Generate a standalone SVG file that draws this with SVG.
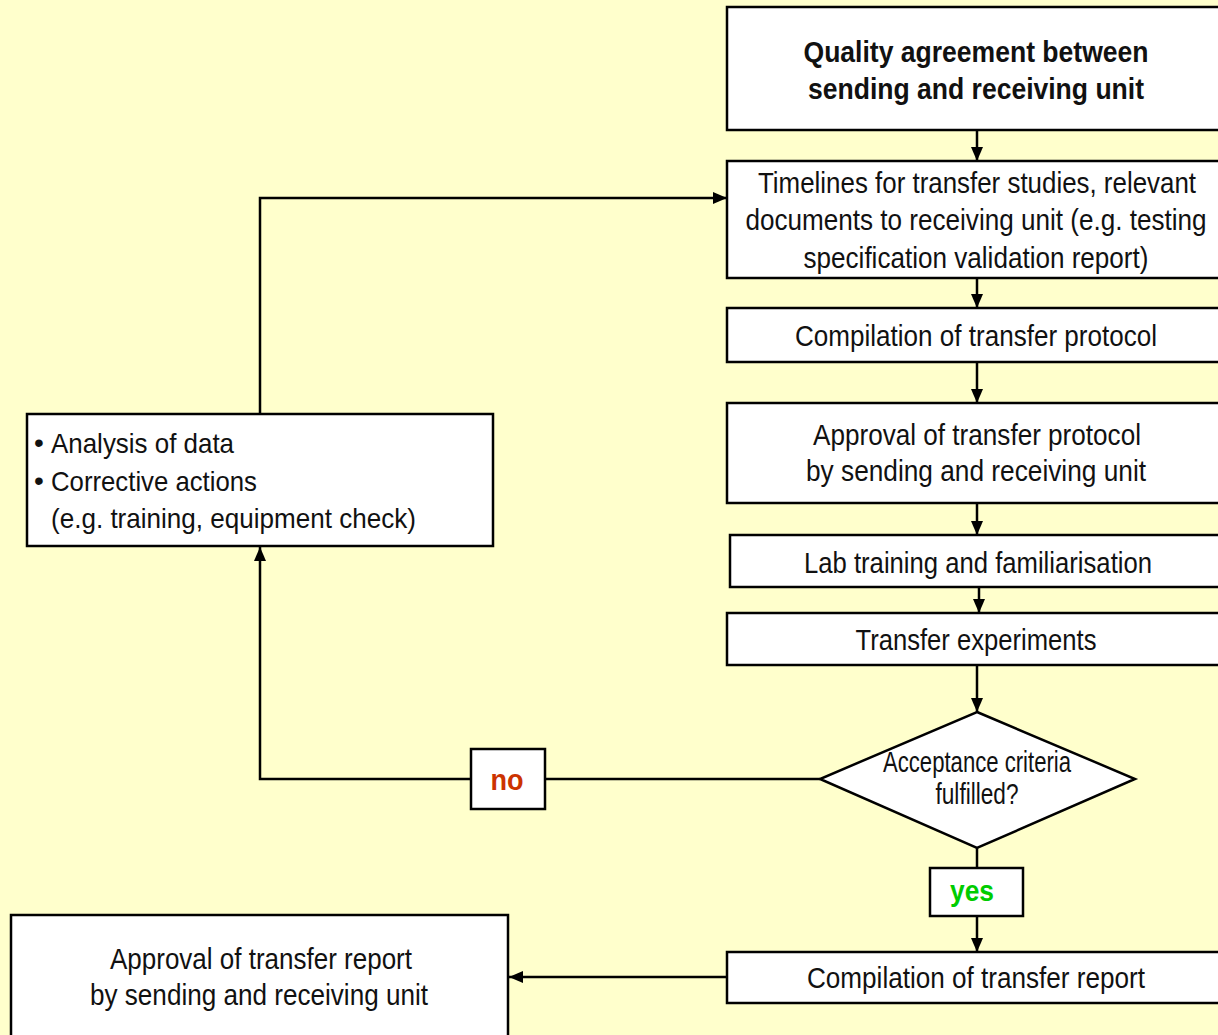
<svg xmlns="http://www.w3.org/2000/svg" width="1218" height="1035" viewBox="0 0 1218 1035">
<style>
.box{fill:#ffffff;stroke:#000000;stroke-width:2.5}
.t{font-family:"Liberation Sans",Arial,sans-serif;font-size:29px;fill:#111111;text-anchor:middle}
.tl{font-family:"Liberation Sans",Arial,sans-serif;font-size:28px;fill:#111111}
.b{font-weight:bold}
.c{fill:none;stroke:#000000;stroke-width:2.5}
</style>
<defs>
<marker id="ah" markerUnits="userSpaceOnUse" markerWidth="14" markerHeight="12" refX="14" refY="6" orient="auto">
<path d="M0,0 L14,6 L0,12 z" fill="#000000"/>
</marker>
</defs>
<rect x="0" y="0" width="1218" height="1035" fill="#ffffcc"/>
<g id="connectors">
<line class="c" x1="977" y1="130" x2="977" y2="161" marker-end="url(#ah)"/>
<line class="c" x1="977" y1="278" x2="977" y2="308" marker-end="url(#ah)"/>
<line class="c" x1="977" y1="362" x2="977" y2="403" marker-end="url(#ah)"/>
<line class="c" x1="977" y1="503" x2="977" y2="535" marker-end="url(#ah)"/>
<line class="c" x1="979" y1="587" x2="979" y2="613" marker-end="url(#ah)"/>
<line class="c" x1="977" y1="665" x2="977" y2="712" marker-end="url(#ah)"/>
<line class="c" x1="977" y1="848" x2="977" y2="868"/>
<line class="c" x1="977" y1="916" x2="977" y2="952" marker-end="url(#ah)"/>
<line class="c" x1="727" y1="977" x2="509" y2="977" marker-end="url(#ah)"/>
<line class="c" x1="820" y1="779" x2="545" y2="779"/>
<polyline class="c" points="471,779 260,779 260,547" marker-end="url(#ah)"/>
<polyline class="c" points="260,414 260,198 727,198" marker-end="url(#ah)"/>
</g>
<g id="quality">
<rect class="box" x="727" y="7" width="500" height="123"/>
<text class="t b" x="976" y="62" font-size="31" textLength="345" lengthAdjust="spacingAndGlyphs">Quality agreement between</text>
<text class="t b" x="976" y="99" font-size="31" textLength="336" lengthAdjust="spacingAndGlyphs">sending and receiving unit</text>
</g>
<g id="timelines">
<rect class="box" x="727" y="161" width="500" height="117"/>
<text class="t" x="977" y="193" font-size="28" textLength="438" lengthAdjust="spacingAndGlyphs">Timelines for transfer studies, relevant</text>
<text class="t" x="976" y="230" font-size="28" textLength="461" lengthAdjust="spacingAndGlyphs">documents to receiving unit (e.g. testing</text>
<text class="t" x="976" y="268" font-size="28" textLength="345" lengthAdjust="spacingAndGlyphs">specification validation report)</text>
</g>
<g id="compProtocol">
<rect class="box" x="727" y="308" width="500" height="54"/>
<text class="t" x="976" y="346" textLength="362" lengthAdjust="spacingAndGlyphs">Compilation of transfer protocol</text>
</g>
<g id="approvalProtocol">
<rect class="box" x="727" y="403" width="500" height="100"/>
<text class="t" x="977" y="445" textLength="328" lengthAdjust="spacingAndGlyphs">Approval of transfer protocol</text>
<text class="t" x="976" y="481" textLength="340" lengthAdjust="spacingAndGlyphs">by sending and receiving unit</text>
</g>
<g id="lab">
<rect class="box" x="730" y="535" width="497" height="52"/>
<text class="t" x="978" y="573" textLength="348" lengthAdjust="spacingAndGlyphs">Lab training and familiarisation</text>
</g>
<g id="experiments">
<rect class="box" x="727" y="613" width="500" height="52"/>
<text class="t" x="976" y="650" textLength="241" lengthAdjust="spacingAndGlyphs">Transfer experiments</text>
</g>
<g id="decision">
<polygon class="box" points="977,712 1135,779 977,848 820,779"/>
<text class="t" x="977" y="772" font-size="23" textLength="188" lengthAdjust="spacingAndGlyphs">Acceptance criteria</text>
<text class="t" x="977" y="804" font-size="23" textLength="83" lengthAdjust="spacingAndGlyphs">fulfilled?</text>
</g>
<g id="no">
<rect class="box" x="471" y="749" width="74" height="60"/>
<text class="t b" x="507" y="790" font-size="28" style="fill:#cc3300" textLength="33" lengthAdjust="spacingAndGlyphs">no</text>
</g>
<g id="yes">
<rect class="box" x="930" y="868" width="93" height="48"/>
<text class="t b" x="972" y="901" font-size="28" style="fill:#00cc00" textLength="44" lengthAdjust="spacingAndGlyphs">yes</text>
</g>
<g id="analysis">
<rect class="box" x="27" y="414" width="466" height="132"/>
<text class="tl" x="34" y="452" font-size="24">•</text>
<text class="tl" x="51" y="453" textLength="183" lengthAdjust="spacingAndGlyphs">Analysis of data</text>
<text class="tl" x="34" y="490" font-size="24">•</text>
<text class="tl" x="51" y="491" textLength="206" lengthAdjust="spacingAndGlyphs">Corrective actions</text>
<text class="tl" x="51" y="528" textLength="365" lengthAdjust="spacingAndGlyphs">(e.g. training, equipment check)</text>
</g>
<g id="compReport">
<rect class="box" x="727" y="952" width="500" height="51"/>
<text class="t" x="976" y="988" textLength="338" lengthAdjust="spacingAndGlyphs">Compilation of transfer report</text>
</g>
<g id="approvalReport">
<rect class="box" x="11" y="915" width="497" height="130"/>
<text class="t" x="261" y="969" font-size="28" textLength="302" lengthAdjust="spacingAndGlyphs">Approval of transfer report</text>
<text class="t" x="259" y="1005" font-size="28" textLength="338" lengthAdjust="spacingAndGlyphs">by sending and receiving unit</text>
</g>
</svg>
